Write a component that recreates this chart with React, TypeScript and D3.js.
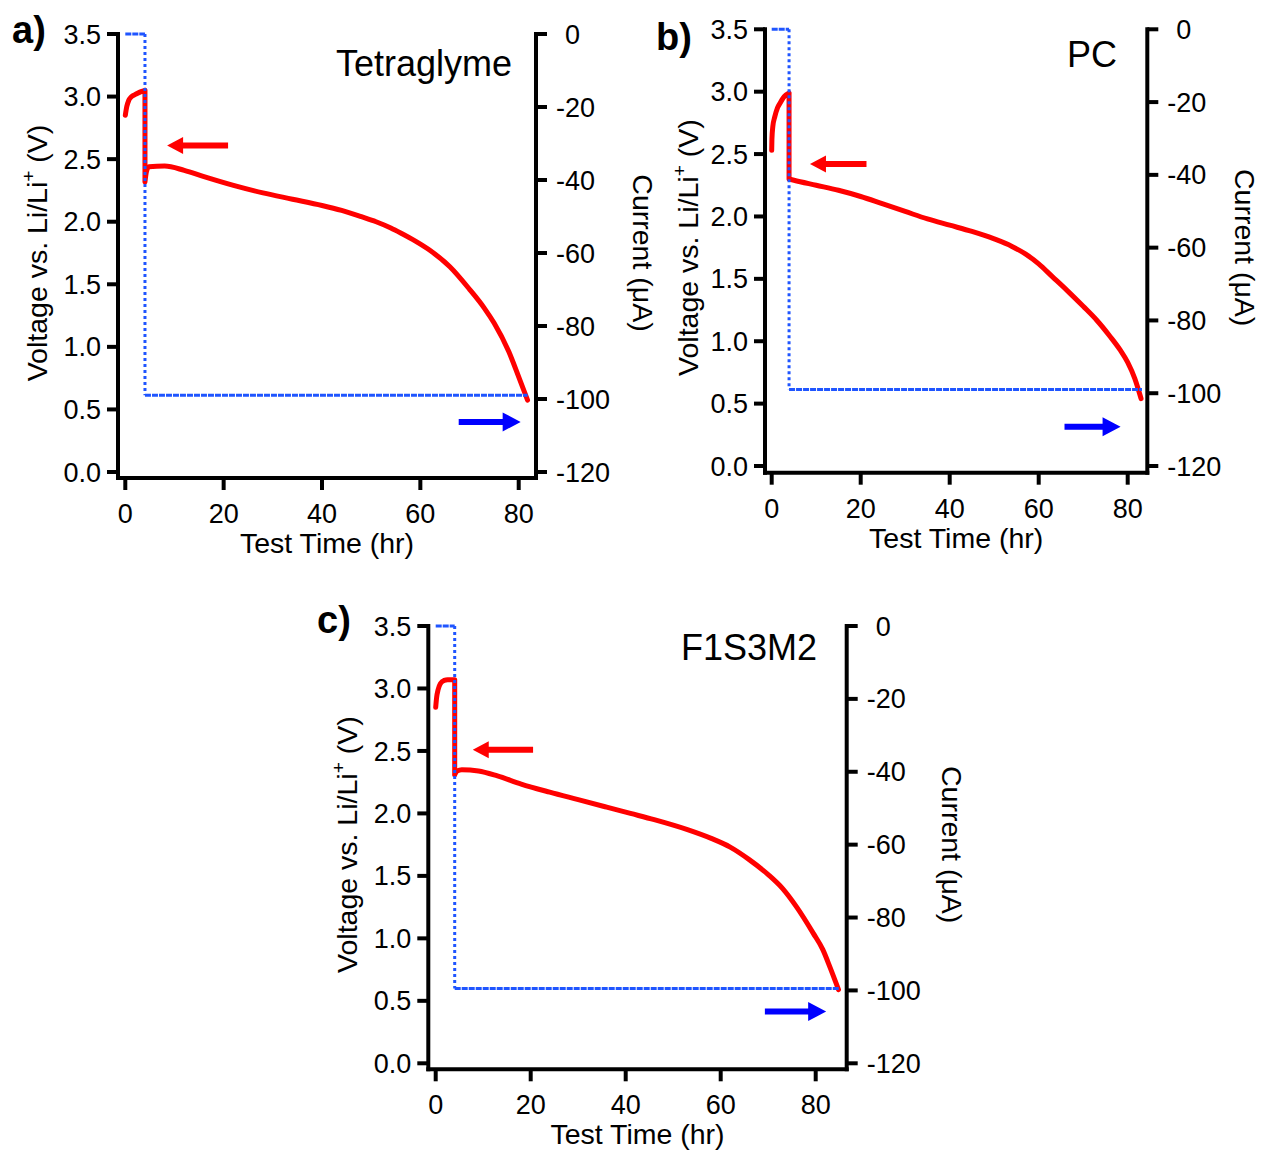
import React from "react";
import * as d3 from "d3";

const FONT = "'Liberation Sans', Arial, Helvetica, sans-serif";

// voltage traces, test time (hr) and voltage (V)
const timeTetraglyme = [0, 0.3, 0.7, 1.3, 2.2, 3.2, 4.0, 4.0, 4.3, 4.8, 8, 12, 16, 22, 28, 34, 40, 44, 48, 51, 54, 56, 59, 62, 66, 70, 73, 75, 78, 80, 81.8];
const voltTetraglyme = [2.85, 2.92, 2.97, 3.0, 3.02, 3.04, 3.05, 2.32, 2.4, 2.44, 2.445, 2.41, 2.36, 2.29, 2.23, 2.18, 2.13, 2.09, 2.04, 2.0, 1.95, 1.91, 1.845, 1.77, 1.64, 1.46, 1.31, 1.19, 0.96, 0.76, 0.575];

const timePC = [0, 0.05, 0.25, 0.7, 1.3, 1.9, 2.8, 3.9, 3.9, 5, 10, 15, 20, 25, 30, 35, 40, 45, 50, 54, 57, 60, 63, 66.3, 70, 73, 76, 78.3, 80, 81.6, 83];
const voltPC = [2.53, 2.62, 2.72, 2.8, 2.87, 2.91, 2.96, 2.99, 2.3, 2.29, 2.25, 2.21, 2.16, 2.1, 2.04, 1.98, 1.93, 1.88, 1.82, 1.76, 1.7, 1.62, 1.52, 1.41, 1.28, 1.17, 1.04, 0.93, 0.83, 0.7, 0.54];

const timeF1S3M2 = [0, 0.2, 0.5, 1.0, 1.8, 2.5, 4.0, 4.0, 4.5, 5.5, 9, 13, 18, 24, 30, 36, 41, 46, 53, 58, 62, 66, 70, 73, 76, 79.5, 81.5, 83, 84.8];
const voltF1S3M2 = [2.85, 2.93, 2.99, 3.04, 3.065, 3.07, 3.07, 2.31, 2.34, 2.35, 2.34, 2.3, 2.235, 2.17, 2.11, 2.05, 2.0, 1.95, 1.87, 1.8, 1.73, 1.63, 1.51, 1.4, 1.25, 1.04, 0.91, 0.77, 0.59];

// current traces, test time (hr) and current (µA)
const currentTimeTetraglyme = [0, 4, 4, 81.8];
const currentTetraglyme = [0, 0, -99, -99];
const currentTimePC = [0, 3.9, 3.9, 83.2];
const currentPC = [0, 0, -99, -99];
const currentTimeF1S3M2 = [0, 4, 4, 85];
const currentF1S3M2 = [0, 0, -99.5, -99.5];

// arrows: [tip time, tail time, level]
const redArrowTetraglyme = [8.5, 20.9, 2.61];
const blueArrowTetraglyme = [80.4, 67.8, -106.3];
const redArrowPC = [8.6, 21.3, 2.42];
const blueArrowPC = [78.4, 65.8, -109.2];
const redArrowF1S3M2 = [7.8, 20.5, 2.51];
const blueArrowF1S3M2 = [82.2, 69.3, -105.8];

const voltTicks = [0, 0.5, 1, 1.5, 2, 2.5, 3, 3.5];
const currentTicks = [0, -20, -40, -60, -80, -100, -120];
const timeTicks = [0, 20, 40, 60, 80];

const panels = [
  {
    label: "a)", title: "Tetraglyme",
    vt: timeTetraglyme, v: voltTetraglyme, it: currentTimeTetraglyme, i: currentTetraglyme,
    redArrow: redArrowTetraglyme, blueArrow: blueArrowTetraglyme,
    x0: 125.3, x80: 518.7, leftX: 118, rightX: 536, yTop: 34, yBottom: 472, axisY: 478,
    titleX: 512, titleY: 76, labelX: 12, labelY: 43, leftTitleX: 47, rightTitleX: 633,
  },
  {
    label: "b)", title: "PC",
    vt: timePC, v: voltPC, it: currentTimePC, i: currentPC,
    redArrow: redArrowPC, blueArrow: blueArrowPC,
    x0: 771.7, x80: 1127.7, leftX: 765, rightX: 1147.3, yTop: 29.3, yBottom: 466, axisY: 472.7,
    titleX: 1117, titleY: 67, labelX: 656, labelY: 50, leftTitleX: 698, rightTitleX: 1235,
  },
  {
    label: "c)", title: "F1S3M2",
    vt: timeF1S3M2, v: voltF1S3M2, it: currentTimeF1S3M2, i: currentF1S3M2,
    redArrow: redArrowF1S3M2, blueArrow: blueArrowF1S3M2,
    x0: 435.7, x80: 815.7, leftX: 428.3, rightX: 846.7, yTop: 626, yBottom: 1063.3, axisY: 1069.3,
    titleX: 817, titleY: 660, labelX: 317, labelY: 633, leftTitleX: 357, rightTitleX: 942,
  },
];

function arrowPath(tip: number, tail: number, y: number, head: number, half: number, shaft: number) {
  const dir = tail > tip ? 1 : -1;
  const base = tip + dir * head;
  const s = shaft / 2;
  return `M${tip},${y}L${base},${y - half}L${base},${y - s}L${tail},${y - s}L${tail},${y + s}L${base},${y + s}L${base},${y + half}Z`;
}

function Panel({ p }: { p: any }) {
  const x = d3.scaleLinear().domain([0, 80]).range([p.x0, p.x80]);
  const yV = d3.scaleLinear().domain([0, 3.5]).range([p.yBottom, p.yTop]);
  const yI = d3.scaleLinear().domain([-120, 0]).range([p.yBottom, p.yTop]);

  // split the voltage trace at the step (repeated time) so each part can be smoothed
  const pts: [number, number][] = p.v.map((d: number, k: number) => [p.vt[k], d]);
  const step = pts.findIndex((d, k) => k > 0 && d[0] === pts[k - 1][0]);
  const charge = pts.slice(0, step);
  const discharge = pts.slice(step);
  const smooth = d3.line().x(d => x(d[0])).y(d => yV(d[1])).curve(d3.curveMonotoneX);
  const straight = d3.line().x(d => x(d[0])).y(d => yV(d[1]));
  const vPath = (smooth(charge) || "") + (straight([charge[charge.length - 1], discharge[0]]) || "") + (smooth(discharge) || "");

  const iPts: [number, number][] = p.i.map((d: number, k: number) => [p.it[k], d]);
  const fmt = d3.format(".1f");
  const minusW = 9;

  return (
    <g fontFamily={FONT} fill="#000">
      {/* traces */}
      <path d={vPath} fill="none" stroke="#ff0000" strokeWidth={5} strokeLinejoin="round" strokeLinecap="round" />
      {iPts.slice(1).map((d, k) => {
        const a = iPts[k];
        const vertical = a[0] === d[0];
        return (
          <line key={"i" + k} x1={x(a[0])} y1={yI(a[1])} x2={x(d[0])} y2={yI(d[1])}
            stroke="#1f55ff" strokeWidth={3} strokeDasharray={vertical ? "3 3" : "6 1"} />
        );
      })}

      {/* arrows */}
      <path d={arrowPath(x(p.redArrow[0]), x(p.redArrow[1]), yV(p.redArrow[2]), 16, 8.5, 6)} fill="#ff0000" />
      <path d={arrowPath(x(p.blueArrow[0]), x(p.blueArrow[1]), yI(p.blueArrow[2]), 18, 9.5, 6)} fill="#0000ff" />

      {/* axes */}
      <g stroke="#000" strokeWidth={4} strokeLinecap="square">
        <line x1={p.leftX} x2={p.leftX} y1={p.yTop} y2={p.axisY} />
        <line x1={p.rightX} x2={p.rightX} y1={p.yTop} y2={p.axisY} />
        <line x1={p.leftX} x2={p.rightX} y1={p.axisY} y2={p.axisY} />
      </g>
      <g stroke="#000" strokeWidth={4}>
        {voltTicks.map(t => <line key={"l" + t} x1={p.leftX - 11} x2={p.leftX} y1={yV(t)} y2={yV(t)} />)}
        {currentTicks.map(t => <line key={"r" + t} x1={p.rightX} x2={p.rightX + 11} y1={yI(t)} y2={yI(t)} />)}
        {timeTicks.map(t => <line key={"b" + t} x1={x(t)} x2={x(t)} y1={p.axisY} y2={p.axisY + 12} />)}
      </g>
      <g fontSize={27}>
        {voltTicks.map(t => (
          <text key={"lt" + t} x={p.leftX - 17} y={yV(t) + 9.6} textAnchor="end">{fmt(t)}</text>
        ))}
        {currentTicks.map(t => (
          <text key={"rt" + t} x={p.rightX + 20 + (t === 0 ? minusW : 0)} y={yI(t) + 9.6} textAnchor="start">{t === 0 ? "0" : "-" + Math.abs(t)}</text>
        ))}
        {timeTicks.map(t => (
          <text key={"bt" + t} x={x(t)} y={p.axisY + 45} textAnchor="middle">{t}</text>
        ))}
      </g>

      {/* axis titles */}
      <text x={(p.leftX + p.rightX) / 2} y={p.axisY + 75} fontSize={28.5} textAnchor="middle">Test Time (hr)</text>
      <text transform={`translate(${p.leftTitleX},${(p.yTop + p.yBottom) / 2}) rotate(-90)`} fontSize={28.5} textAnchor="middle">
        Voltage vs. Li/Li<tspan dy={-12} fontSize={19}>+</tspan><tspan dy={12}> (V)</tspan>
      </text>
      <text transform={`translate(${p.rightTitleX},${(p.yTop + p.yBottom) / 2}) rotate(90)`} fontSize={28.5} textAnchor="middle">
        Current (μA)
      </text>

      {/* panel title and label */}
      <text x={p.titleX} y={p.titleY} fontSize={36} textAnchor="end">{p.title}</text>
      <text x={p.labelX} y={p.labelY} fontSize={38} fontWeight="bold">{p.label}</text>
    </g>
  );
}

export default function App() {
  return (
    <svg width={1263} height={1151} style={{ position: "absolute", left: 0, top: 0, background: "#fff" }}>
      {panels.map(p => <Panel key={p.label} p={p} />)}
    </svg>
  );
}
